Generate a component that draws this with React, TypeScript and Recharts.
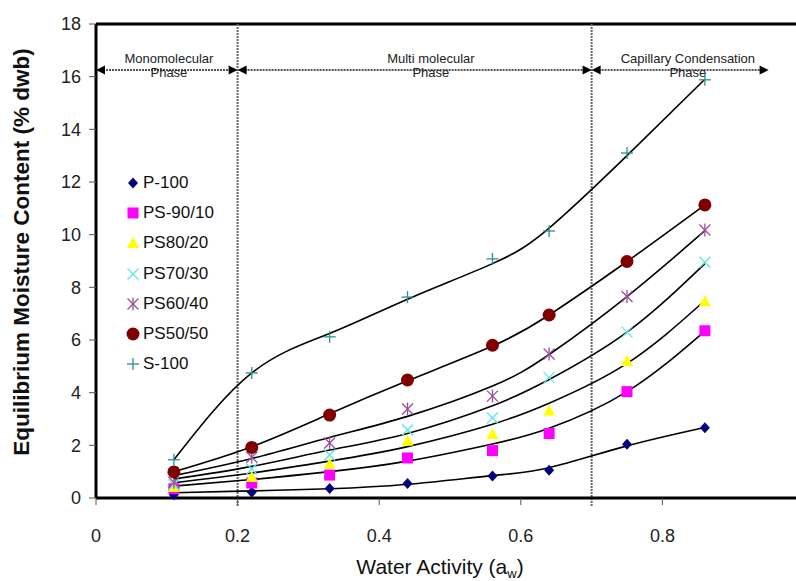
import {
  ComposedChart,
  Line,
  Scatter,
  XAxis,
  YAxis,
  ReferenceLine,
  ReferenceDot,
} from 'recharts';

// water activity of the salt solutions
const AW = [0.11, 0.22, 0.33, 0.44, 0.56, 0.64, 0.75, 0.86];
const X_TICKS = [0, 0.2, 0.4, 0.6, 0.8, 1];
const Y_TICKS = [0, 2, 4, 6, 8, 10, 12, 14, 16, 18];

// measured EMC (% dwb)
const P100 = [0.12, 0.22, 0.36, 0.55, 0.84, 1.05, 2.04, 2.67];
const PS90 = [0.35, 0.57, 0.87, 1.52, 1.8, 2.45, 4.04, 6.35];
const PS80 = [0.42, 0.8, 1.3, 2.17, 2.43, 3.32, 5.2, 7.47];
const PS70 = [0.5, 1.1, 1.63, 2.58, 3.04, 4.57, 6.3, 8.95];
const PS60 = [0.6, 1.55, 2.09, 3.38, 3.87, 5.47, 7.65, 10.18];
const PS50 = [0.99, 1.92, 3.15, 4.48, 5.8, 6.95, 8.98, 11.13];
const S100 = [1.45, 4.75, 6.12, 7.63, 9.08, 10.14, 13.1, 15.88];

const P100_FIT = [0.2, 0.27, 0.35, 0.52, 0.85, 1.15, 1.98, 2.68];
const PS90_FIT = [0.45, 0.7, 1.0, 1.4, 2.05, 2.65, 4.04, 6.34];
const PS80_FIT = [0.58, 0.95, 1.4, 1.95, 2.8, 3.6, 5.11, 7.5];
const PS70_FIT = [0.72, 1.2, 1.82, 2.45, 3.5, 4.5, 6.3, 8.9];
const PS60_FIT = [0.85, 1.5, 2.3, 3.1, 4.25, 5.45, 7.65, 10.15];
const PS50_FIT = [1.0, 1.95, 3.2, 4.45, 5.77, 6.95, 8.98, 11.13];
const S100_FIT = [1.45, 4.75, 6.25, 7.55, 8.9, 10.25, 13.0, 15.9];

// phase boundaries and arrows
const PHASE_BOUNDS = [0.2, 0.7];
const ARROW_Y = 16.25;
const ARROWS = [
  [0, 0.2],
  [0.2, 0.7],
  [0.7, 0.95],
];
const PHASE_LABELS = [
  { x: 0.103, lines: ['Monomolecular', 'Phase'] },
  { x: 0.473, lines: ['Multi molecular', 'Phase'] },
  { x: 0.836, lines: ['Capillary Condensation', 'Phase'] },
];

type Kind = 'diamond' | 'square' | 'triangle' | 'cross' | 'star' | 'circle' | 'plus';

const SERIES: { name: string; pts: number[]; fit: number[]; color: string; kind: Kind }[] = [
  { name: 'P-100', pts: P100, fit: P100_FIT, color: '#000080', kind: 'diamond' },
  { name: 'PS-90/10', pts: PS90, fit: PS90_FIT, color: '#ff00ff', kind: 'square' },
  { name: 'PS80/20', pts: PS80, fit: PS80_FIT, color: '#ffff00', kind: 'triangle' },
  { name: 'PS70/30', pts: PS70, fit: PS70_FIT, color: '#5ce6e6', kind: 'cross' },
  { name: 'PS60/40', pts: PS60, fit: PS60_FIT, color: '#9a4f9a', kind: 'star' },
  { name: 'PS50/50', pts: PS50, fit: PS50_FIT, color: '#800000', kind: 'circle' },
  { name: 'S-100', pts: S100, fit: S100_FIT, color: '#2f8f8f', kind: 'plus' },
];

const FONT = '"Liberation Sans", Arial, sans-serif';

function marker(kind: Kind, cx: number, cy: number, color: string) {
  switch (kind) {
    case 'diamond':
      return <polygon points={`${cx},${cy - 5.5} ${cx + 5},${cy} ${cx},${cy + 5.5} ${cx - 5},${cy}`} fill={color} />;
    case 'square':
      return <rect x={cx - 5.5} y={cy - 5.5} width={11} height={11} fill={color} />;
    case 'triangle':
      return <polygon points={`${cx},${cy - 6} ${cx + 6},${cy + 5} ${cx - 6},${cy + 5}`} fill={color} />;
    case 'cross':
      return (
        <g stroke={color} strokeWidth={1.3}>
          <line x1={cx - 5.5} y1={cy - 5.5} x2={cx + 5.5} y2={cy + 5.5} />
          <line x1={cx - 5.5} y1={cy + 5.5} x2={cx + 5.5} y2={cy - 5.5} />
        </g>
      );
    case 'star':
      return (
        <g stroke={color} strokeWidth={1.3}>
          <line x1={cx - 5.5} y1={cy - 5.5} x2={cx + 5.5} y2={cy + 5.5} />
          <line x1={cx - 5.5} y1={cy + 5.5} x2={cx + 5.5} y2={cy - 5.5} />
          <line x1={cx} y1={cy - 6.5} x2={cx} y2={cy + 6.5} />
        </g>
      );
    case 'circle':
      return <circle cx={cx} cy={cy} r={6.5} fill={color} />;
    case 'plus':
    default:
      return (
        <g stroke={color} strokeWidth={1.3}>
          <line x1={cx - 6} y1={cy} x2={cx + 6} y2={cy} />
          <line x1={cx} y1={cy - 6} x2={cx} y2={cy + 6} />
        </g>
      );
  }
}

function Arrow(props: any) {
  const { x1, y1, x2, y2 } = props;
  const h = 9;
  const w = 4.5;
  return (
    <g>
      <line x1={x1 + 4} y1={y1} x2={x2 - 4} y2={y2} stroke="#555" strokeWidth={2} strokeDasharray="2 1" />
      <polygon points={`${x1},${y1} ${x1 + h},${y1 - w} ${x1 + h},${y1 + w}`} fill="#000" />
      <polygon points={`${x2},${y2} ${x2 - h},${y2 - w} ${x2 - h},${y2 + w}`} fill="#000" />
    </g>
  );
}

export default function App() {
  return (
    <div style={{ position: 'absolute', left: 0, top: 0, width: 796, height: 581, overflow: 'hidden', background: '#fff' }}>
      <ComposedChart
        width={830}
        height={581}
        margin={{ top: 24, right: 26, bottom: 43, left: 46 }}
        style={{ fontFamily: FONT }}
      >
        <XAxis
          type="number"
          dataKey="aw"
          domain={[0, 1]}
          ticks={X_TICKS}
          tickFormatter={(v) => String(v)}
          axisLine={{ stroke: '#000', strokeWidth: 3 }}
          tickLine={{ stroke: '#555' }}
          tickSize={7}
          tick={{ fontSize: 18, fill: '#222', fontFamily: FONT }}
          tickMargin={24}
          height={40}
          label={{
            content: () => (
              <text x={440} y={574} textAnchor="middle" fontSize={21} fill="#111" fontFamily={FONT}>
                Water Activity (a<tspan fontSize={13} dy={4}>w</tspan>
                <tspan dy={-4}>)</tspan>
              </text>
            ),
          }}
        />
        <YAxis
          type="number"
          domain={[0, 18]}
          ticks={Y_TICKS}
          axisLine={{ stroke: '#000', strokeWidth: 3 }}
          tickLine={{ stroke: '#555' }}
          tickSize={7}
          tick={{ fontSize: 18, fill: '#222', fontFamily: FONT }}
          tickMargin={8}
          width={50}
          label={{
            content: () => (
              <text
                x={0}
                y={0}
                transform="translate(29,252) rotate(-90)"
                textAnchor="middle"
                fontSize={22.5}
                fontWeight="bold"
                fill="#111"
                fontFamily={FONT}
              >
                Equilibrium Moisture Content (% dwb)
              </text>
            ),
          }}
        />
        <ReferenceLine y={18} stroke="#000" strokeWidth={3} />
        {PHASE_BOUNDS.map((b) => (
          <ReferenceLine
            key={b}
            segment={[{ x: b, y: -0.3 }, { x: b, y: 18 }]}
            ifOverflow="visible"
            stroke="#666"
            strokeWidth={2}
            strokeDasharray="2 1"
          />
        ))}
        {ARROWS.map(([a, b]) => (
          <ReferenceLine
            key={`${a}-${b}`}
            segment={[{ x: a, y: ARROW_Y }, { x: b, y: ARROW_Y }]}
            ifOverflow="visible"
            shape={<Arrow />}
          />
        ))}
        {PHASE_LABELS.map((p) => (
          <ReferenceDot
            key={p.x}
            x={p.x}
            y={ARROW_Y}
            ifOverflow="visible"
            shape={(props: any) => (
              <text x={props.cx} y={props.cy} textAnchor="middle" fontSize={13} fill="#222" fontFamily={FONT}>
                <tspan x={props.cx} dy={-7}>{p.lines[0]}</tspan>
                <tspan x={props.cx} dy={14}>{p.lines[1]}</tspan>
              </text>
            )}
          />
        ))}
        {SERIES.map((s) => (
          <Line
            key={`fit-${s.name}`}
            data={AW.map((aw, i) => ({ aw, v: s.fit[i] }))}
            dataKey="v"
            type="natural"
            stroke="#000"
            strokeWidth={1.6}
            dot={false}
            activeDot={false}
            legendType="none"
            isAnimationActive={false}
          />
        ))}
        {SERIES.map((s) => (
          <Scatter
            key={`pts-${s.name}`}
            name={s.name}
            data={AW.map((aw, i) => ({ aw, v: s.pts[i] }))}
            dataKey="v"
            fill={s.color}
            shape={(props: any) => marker(s.kind, props.cx, props.cy, s.color)}
            isAnimationActive={false}
          />
        ))}
      </ComposedChart>
      <div style={{ position: 'absolute', left: 126, top: 168, fontFamily: FONT }}>
        {SERIES.map((s) => (
          <div key={s.name} style={{ display: 'flex', alignItems: 'center', height: 30.2 }}>
            <svg width={14} height={14} style={{ marginRight: 3 }}>
              {marker(s.kind, 7, 7, s.color)}
            </svg>
            <span style={{ fontSize: 17, color: '#111' }}>{s.name}</span>
          </div>
        ))}
      </div>
    </div>
  );
}
